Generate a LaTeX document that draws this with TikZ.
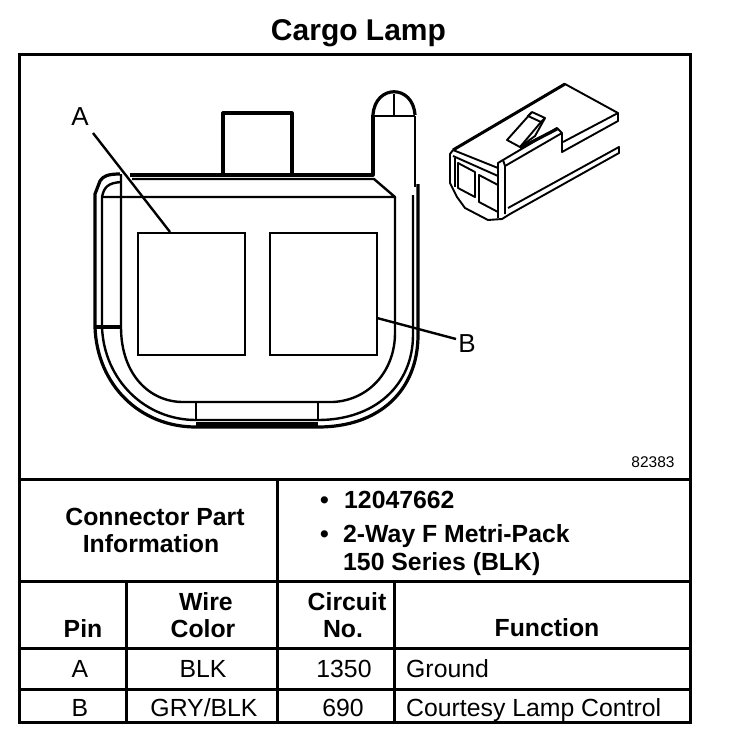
\documentclass[tikz,border=0pt]{standalone}
\usepackage{fontspec}
\setmainfont{Liberation Sans}
\tikzset{
 ln/.style={draw=black,line width=3.2pt,line join=round},
 th/.style={draw=black,line width=2.4pt,line join=round},
 iso/.style={draw=black,line width=1.9pt,line join=round},
 lead/.style={draw=black,line width=2.4pt},
 rule/.style={draw=black,line width=3pt},
 reg/.style={font=\fontsize{24.8}{24.8}\selectfont,inner sep=0pt,anchor=base},
 bld/.style={font=\fontsize{24.8}{24.8}\bfseries\selectfont,inner sep=0pt,anchor=base},
 cav/.style={draw=black,line width=2.8pt,minimum width=107pt,minimum height=122pt,inner sep=0pt}
}
\begin{document}
\begin{tikzpicture}[x=1pt,y=-1pt]
\useasboundingbox (0,0) rectangle (736,756);
% title and frame
\node[font=\fontsize{30}{30}\bfseries\selectfont,inner sep=0pt,anchor=base] (title) at (358.5,40) {Cargo Lamp};
\draw[rule] (19,54) rectangle (690,722);
\draw[rule] (19,479) -- (690,479);
\draw[rule] (19,581) -- (690,581);
\draw[rule] (19,648) -- (690,648);
\draw[rule] (19,689) -- (690,689);
\draw[rule] (277,479) -- (277,722);
\draw[rule] (126,581) -- (126,722);
\draw[rule] (394,581) -- (394,722);
% main connector outline
\draw[ln] (223,176) -- (223,113) -- (292,113) -- (292,176);
\draw[ln] (130,175) -- (373,175) -- (373,115);
\draw[th] (132,179) -- (374,179) -- (395,197) -- (102,197);
\draw[ln] (373,115) .. controls (375,84) and (413,84) .. (415,115);
\draw[th] (373,116) -- (415,116);
\draw[th] (394,94) -- (394,116);
\draw[th] (415,116) -- (415,187);
% outer shell
\draw[ln] (120,174) .. controls (108,174) and (103,176) .. (100,181) -- (95,194) -- (95,327)
  .. controls (97,385) and (140,427) .. (196,427) -- (318,427)
  .. controls (380,427) and (418,390) .. (418,335) -- (418,184);
\draw[th] (102,197) -- (102,327) .. controls (104,380) and (145,420) .. (196,420) -- (318,420)
  .. controls (375,420) and (413,385) .. (413,335) -- (413,195);
\draw[line width=4pt] (196,424) -- (318,424);
\draw[th] (102,197) .. controls (104,187) and (108,183) .. (121,182);
% inner body
\draw[th] (121,174) -- (121,327) .. controls (121,375) and (150,402) .. (183,402) -- (333,402)
  .. controls (370,400) and (395,370) .. (395,333) -- (395,197);
\draw[ln] (95,327) -- (121,327);
\draw[th] (196,402) -- (196,420);
\draw[th] (318,402) -- (318,420);
% cavities and leaders
\node[cav] (cavA) at (191.5,294) {};
\node[cav] (cavB) at (323.5,294) {};
\node[font=\fontsize{26}{26}\selectfont,inner sep=0pt] (labA) at (80,117) {A};
\node[font=\fontsize{26}{26}\selectfont,inner sep=0pt] (labB) at (467,344) {B};
\coordinate (endA) at (170,232);
\coordinate (endB) at (377,318);
\coordinate (startA) at (93,133);
\coordinate (startB) at (456,339);
\draw[lead] (startA) -- (endA);
\draw[lead] (startB) -- (endB);
% isometric connector
\draw[iso] (453,150) -- (565,84) -- (618,113) -- (618,121) -- (562,152) -- (562,133) -- (557,128) -- (503,160) -- (498,163) -- (498,218);
\draw[line width=3pt] (453,150) -- (565,84);
\draw[iso] (618,113) -- (563,142);
\draw[line width=3.2pt] (520,148) -- (557,129);
\draw[iso] (453,150) -- (450,154) -- (450,183) -- (457,197) -- (465,208) -- (488,220) -- (502,219) -- (510,214) -- (619,153) -- (619,147) -- (508,208);
\draw[iso] (453,150) -- (498,168);
\draw[iso] (453,156) -- (498,176);
\draw[iso] (503,160) -- (505,166) -- (505,214);
\draw[iso] (505,166) -- (562,133);
\draw[iso] (458,163) -- (475,172) -- (475,197) -- (458,188) -- cycle;
\draw[iso] (479,175) -- (498,185) -- (498,212) -- (479,202) -- cycle;
\draw[iso] (455,158) -- (455,187);
\draw[iso] (532,112) -- (507,140) -- (520,147) -- (535,136) -- (545,118) -- (532,112);
\draw[iso] (532,112) -- (528,116) -- (541,122) -- (545,118);
\draw[iso] (541,122) -- (520,147);
% part number
\node[font=\fontsize{15.5}{15.5}\selectfont,inner sep=0pt,anchor=base] (num) at (653,467) {82383};
% table text
\node[bld] (t1) at (155,525) {Connector Part};
\node[bld] (t2) at (151,552) {Information};
\node[bld,anchor=base west] (t3) at (344,508) {12047662};
\node[bld,anchor=base west] (t3b) at (320,508) {•};
\node[bld,anchor=base west] (t4) at (343,542) {2-Way F Metri-Pack};
\node[bld,anchor=base west] (t4b) at (320,542) {•};
\node[bld,anchor=base west] (t5) at (343,570) {150 Series (BLK)};
\node[bld] (h1) at (83,637) {Pin};
\node[bld] (h2) at (206,610) {Wire};
\node[bld] (h3) at (203,637) {Color};
\node[bld] (h4) at (347,610) {Circuit};
\node[bld] (h5) at (343,637) {No.};
\node[bld] (h6) at (547,636) {Function};
\node[reg] (a1) at (80,677) {A};
\node[reg] (a2) at (203,677) {BLK};
\node[reg] (a3) at (344,677) {1350};
\node[reg,anchor=base west] (a4) at (406,677) {Ground};
\node[reg] (b1) at (80,716) {B};
\node[reg] (b2) at (204,716) {GRY/BLK};
\node[reg] (b3) at (343,716) {690};
\node[reg,anchor=base west] (b4) at (406,716) {Courtesy Lamp Control};
\end{tikzpicture}
\end{document}
